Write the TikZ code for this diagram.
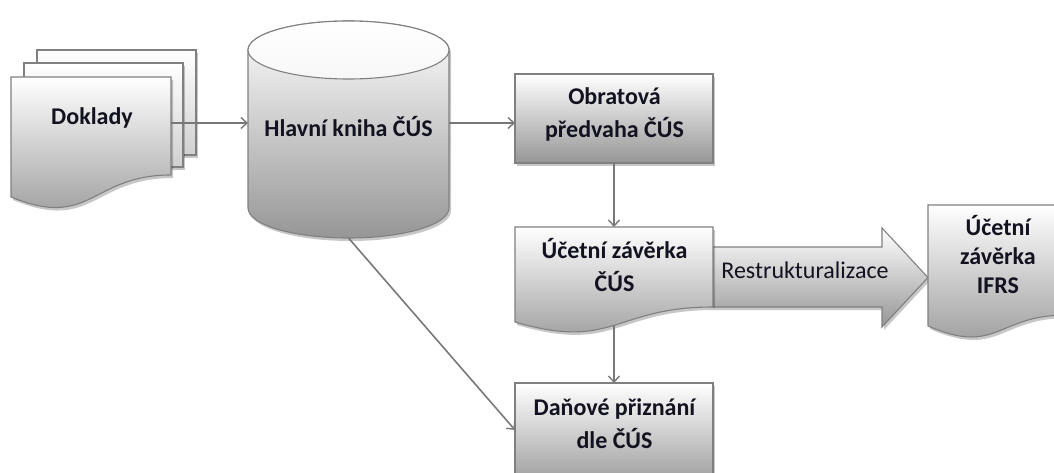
\documentclass[tikz,border=0pt]{standalone}
\usepackage{fontspec}
\setmainfont{Carlito}
\usetikzlibrary{arrows.meta,shadows}
\definecolor{edge}{RGB}{128,128,128}
\definecolor{wire}{RGB}{120,120,120}
\definecolor{ink}{RGB}{18,18,32}
\definecolor{shadeend}{RGB}{150,150,150}
\tikzset{
  softshadow/.style={drop shadow={shadow xshift=2pt, shadow yshift=-3pt, opacity=0.22, fill=black}},
  solid3d/.style={draw=edge, line width=1.1pt, top color=white, bottom color=shadeend, softshadow},
  page/.style={draw=edge, line width=1.1pt, top color=white, bottom color=shadeend!45, softshadow},
  caption/.style={font=\fontsize{24}{33}\selectfont\bfseries, text=ink, align=center, inner sep=0pt, anchor=base},
  plain caption/.style={font=\fontsize{24}{33}\selectfont, text=ink, inner sep=0pt, anchor=base},
  link/.style={draw=wire, line width=1.6pt, -{Straight Barb[length=6pt,width=11pt,line width=1.4pt]}},
}
\begin{document}
\begin{tikzpicture}[x=1pt,y=-1pt]
\clip (0,0) rectangle (1054,473);

% stack of source documents
\path[page] (37,50) rectangle (196,155);
\path[page] (24,63) rectangle (183,167);
\path[solid3d] (11,77) -- (171,77) -- (171,175)
  .. controls (91,175) and (91,230) .. (11,197) -- cycle;
\node[caption] (dok) at (92,125) {Doklady};

% general ledger drum
\path[solid3d] (248,50) -- (248,208)
  .. controls (248,224.6) and (293,238) .. (348.5,238)
  .. controls (404,238) and (449,224.6) .. (449,208) -- (449,50)
  .. controls (449,34) and (404,21) .. (348.5,21)
  .. controls (293,21) and (248,34) .. (248,50) -- cycle;
\path[draw=edge, line width=1.1pt, top color=white, bottom color=gray!6]
  (348.5,50) ellipse [x radius=100.5, y radius=29];
\node[caption] (hk) at (348.5,137) {Hlavní kniha ČÚS};

% trial balance (the base anchor sits on the last line)
\path[solid3d] (515,74) rectangle (713,163);
\node[caption] (obr) at (614.5,138) {Obratová\\předvaha ČÚS};

% tax return
\path[solid3d] (515,383) rectangle (713,490);
\node[caption] (dan) at (614.5,448) {Daňové přiznání\\dle ČÚS};

% restructuring block arrow
\path[solid3d] (713,247) -- (882,247) -- (882,228) -- (928,277.5)
  -- (882,327) -- (882,307) -- (713,307) -- cycle;
\node[plain caption] (restr) at (805,278) {Restrukturalizace};

% statutory financial statements
\path[solid3d] (515,227) -- (713,227) -- (713,307)
  .. controls (614,307) and (614,351) .. (515,322) -- cycle;
\node[caption] (uz) at (614.5,291.5) {Účetní závěrka\\ČÚS};

% IFRS financial statements
\path[solid3d] (928,205) -- (1066,205) -- (1066,315)
  .. controls (997,315) and (997,356) .. (928,326) -- cycle;
\node[caption, font=\fontsize{24}{29}\selectfont\bfseries] (ifrs) at (998,293) {Účetní\\závěrka\\IFRS};

% connector ends on the shape outlines
\coordinate (dok-out) at (171,123);
\coordinate (hk-in) at (248,123);
\coordinate (hk-out) at (449,123);
\coordinate (hk-bottom) at (348.5,238);
\coordinate (obr-in) at (515,123);
\coordinate (obr-out) at (614,163);
\coordinate (uz-in) at (614,227);
\coordinate (uz-out) at (614,325);
\coordinate (dan-top) at (614,383);
\coordinate (dan-side) at (515,430);

\draw[link] (dok-out) -- (hk-in);
\draw[link] (hk-out) -- (obr-in);
\draw[link] (obr-out) -- (uz-in);
\draw[link] (uz-out) -- (dan-top);
\draw[link] (hk-bottom) -- (dan-side);
\end{tikzpicture}
\end{document}
